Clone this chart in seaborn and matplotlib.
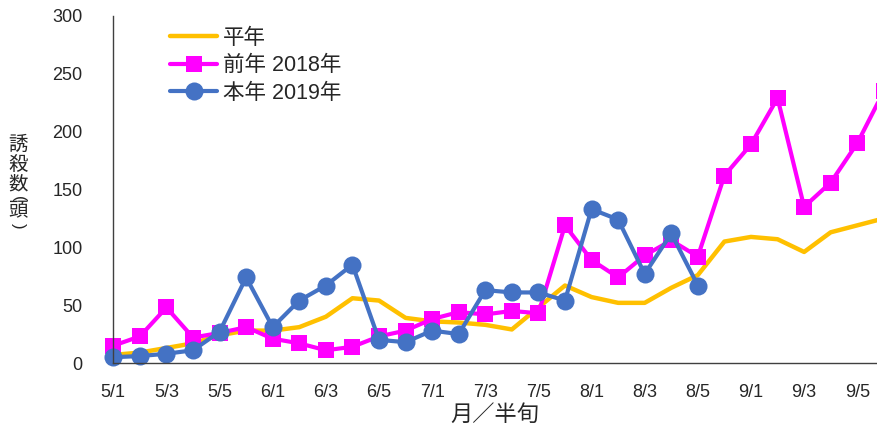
import matplotlib
matplotlib.use("Agg")
import matplotlib.pyplot as plt
import numpy as np
import pandas as pd
import seaborn as sns

# 月/半旬 categories (5/1 .. 9/6)
periods = [
    "5/1", "5/2", "5/3", "5/4", "5/5", "5/6",
    "6/1", "6/2", "6/3", "6/4", "6/5", "6/6",
    "7/1", "7/2", "7/3", "7/4", "7/5", "7/6",
    "8/1", "8/2", "8/3", "8/4", "8/5", "8/6",
    "9/1", "9/2", "9/3", "9/4", "9/5", "9/6",
]
heinen = [7, 9, 13, 17, 24, 28, 28, 31, 40, 56, 54, 39, 36, 35, 33, 29, 48, 67,
          57, 52, 52, 65, 76, 105, 109, 107, 96, 113, 119, 125]
zennen_2018 = [15, 23, 48, 22, 26, 31, 21, 17, 11, 14, 23, 28, 38, 44, 42, 45, 43, 119,
               89, 74, 93, 106, 92, 162, 189, 229, 135, 156, 190, 235]
honnen_2019 = [5, 6, 8, 11, 27, 74, 31, 54, 67, 85, 20, 18, 28, 25, 63, 61, 61, 54,
               133, 124, 77, 112, 67, np.nan, np.nan, np.nan, np.nan, np.nan, np.nan, np.nan]

sns.set_style("white")
plt.rcParams["font.family"] = ["Liberation Sans", "Noto Sans CJK JP"]

df = pd.DataFrame({
    "pos": np.arange(len(periods)),
    "period": periods,
    "heinen": heinen,
    "zennen": zennen_2018,
    "honnen": honnen_2019,
})

fig = plt.figure(figsize=(8.77, 4.32), dpi=100)
ax = fig.add_axes([113.3 / 877, 69 / 432, 1 - 113.3 / 877, 347 / 432])

sns.lineplot(data=df, x="pos", y="heinen", ax=ax, color="#FFC000", linewidth=3.2,
             label="平年", clip_on=False)
sns.lineplot(data=df, x="pos", y="zennen", ax=ax, color="#FF00FF", linewidth=3.0,
             marker="s", markersize=12, markeredgewidth=0, label="前年 2018年", clip_on=False)
sns.lineplot(data=df.dropna(), x="pos", y="honnen", ax=ax, color="#4472C4", linewidth=3.0,
             marker="o", markersize=13, markeredgewidth=0, label="本年 2019年", clip_on=False)

ax.set_yticks(range(0, 301, 50))
ax.set_xticks(df["pos"])
ax.set_xticklabels([p if i % 2 == 0 else "" for i, p in enumerate(periods)])
ax.set_xlim(0, (877 - 113.3) / 26.57)
ax.set_ylim(0, 300)
ax.tick_params(axis="both", direction="in", length=5, width=1, color="#404040", labelsize=13)
ax.tick_params(axis="y", pad=22)
ax.tick_params(axis="x", pad=15)
for side in ["top", "right"]:
    ax.spines[side].set_visible(False)
for side in ["left", "bottom"]:
    ax.spines[side].set_color("#404040")
    ax.spines[side].set_linewidth(1)

ax.set_xlabel("")
ax.set_ylabel("")
fig.text(495 / 877, 1 - 415 / 432, "月／半旬", ha="center", va="center", fontsize=16)

# vertical stacked y label: one glyph per text, brackets turned sideways
ylab = [("誘", 145, 0, 14), ("殺", 165, 0, 14), ("数", 185, 0, 14),
        ("(", 199, -90, 12), ("頭", 212, 0, 14), (")", 226, -90, 12)]
for ch, ypix, rot, size in ylab:
    fig.text(18 / 877, 1 - ypix / 432, ch, ha="center", va="center",
             fontsize=size, rotation=rot)

leg = ax.legend(loc="upper left", bbox_to_anchor=(170 / 877, 1 - 28 / 432),
                bbox_transform=fig.transFigure, frameon=False, fontsize=15.5,
                borderpad=0, borderaxespad=0, handlelength=2.2, handletextpad=0.25,
                labelspacing=0.3)

fig.savefig("out.png", dpi=100)
plt.close(fig)
